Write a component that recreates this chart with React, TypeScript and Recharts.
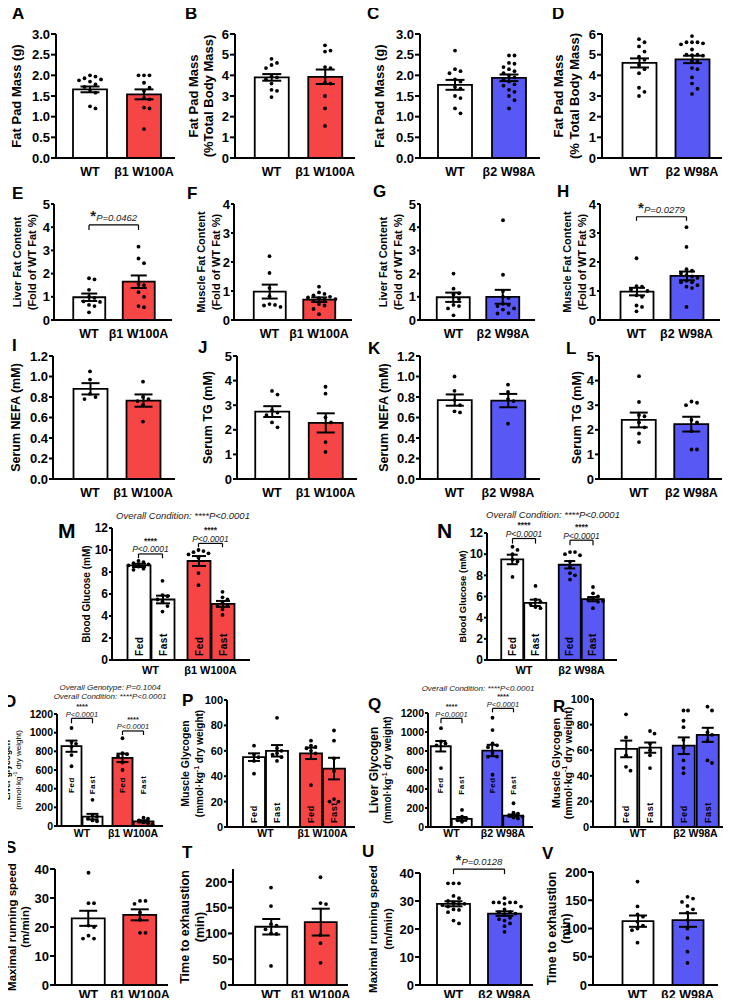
import React from "react";
import {
  ComposedChart,
  Bar,
  XAxis,
  YAxis,
  Scatter,
  ErrorBar,
  Cell,
  LabelList,
  ReferenceLine,
} from "recharts";

const FONT = '"Liberation Sans", Arial, Helvetica, sans-serif';
const RED = "#f54545";
const BLUE = "#5858f5";
const WHITE = "#ffffff";

const B1 = ["WT", "β1 W100A"];
const B2 = ["WT", "β2 W98A"];
const COND = ["Fed", "Fast"];

// tick values
const t3 = [0, 0.5, 1, 1.5, 2, 2.5, 3];
const t6 = [0, 1, 2, 3, 4, 5, 6];
const t5 = [0, 1, 2, 3, 4, 5];
const t4 = [0, 1, 2, 3, 4];
const t12s = [0, 0.2, 0.4, 0.6, 0.8, 1, 1.2];
const t12 = [0, 2, 4, 6, 8, 10, 12];
const t1200 = [0, 200, 400, 600, 800, 1000, 1200];
const t100 = [0, 20, 40, 60, 80, 100];
const t40 = [0, 10, 20, 30, 40];
const t200 = [0, 50, 100, 150, 200];

// A-D fat pad
const aMean = [1.66, 1.54];
const aSem = [0.07, 0.12];
const aWT = [2.0, 1.97, 1.93, 1.9, 1.88, 1.85, 1.78, 1.72, 1.62, 1.58, 1.25, 1.2];
const aMut = [2.0, 2.0, 2.0, 1.82, 1.7, 1.62, 1.45, 1.42, 1.22, 1.2, 0.7];
const bMean = [3.9, 3.93];
const bSem = [0.16, 0.35];
const bWT = [4.8, 4.6, 4.5, 4.35, 3.95, 3.9, 3.8, 3.6, 3.3, 3.25, 2.95];
const bMut = [5.45, 5.2, 5.15, 4.4, 4.35, 3.65, 3.6, 3.0, 2.4, 1.55];
const cMean = [1.77, 1.94];
const cSem = [0.12, 0.08];
const cWT = [2.6, 2.15, 2.1, 2.05, 1.9, 1.85, 1.72, 1.68, 1.5, 1.45, 1.2, 1.08];
const cMut = [2.48, 2.48, 2.3, 2.28, 2.2, 2.15, 2.1, 2.05, 2.0, 1.95, 1.9, 1.85, 1.78, 1.75, 1.65, 1.6, 1.5, 1.4, 1.2];
const dMean = [4.6, 4.77];
const dSem = [0.22, 0.18];
const dWT = [5.75, 5.6, 5.4, 5.15, 4.9, 4.75, 4.5, 4.3, 4.1, 3.4, 3.2, 3.0];
const dMut = [5.9, 5.6, 5.6, 5.6, 5.55, 5.5, 5.25, 5.0, 5.0, 4.98, 4.95, 4.7, 4.65, 4.35, 4.3, 3.9, 3.6, 3.35, 3.1];

// E-H fat content
const eMean = [0.98, 1.65];
const eSem = [0.16, 0.27];
const eWT = [1.8, 1.75, 1.3, 1.0, 0.95, 0.8, 0.78, 0.65, 0.6, 0.33];
const eMut = [3.16, 2.65, 2.45, 1.55, 1.5, 1.2, 1.0, 0.6, 0.55];
const fMean = [0.98, 0.7];
const fSem = [0.24, 0.08];
const fWT = [2.2, 1.62, 1.1, 0.82, 0.55, 0.52, 0.5, 0.45];
const fMut = [1.15, 0.95, 0.9, 0.85, 0.8, 0.78, 0.75, 0.72, 0.7, 0.65, 0.55, 0.5, 0.38, 0.2];
const gMean = [0.98, 1.0];
const gSem = [0.2, 0.3];
const gWT = [2.0, 1.35, 1.15, 1.1, 0.9, 0.65, 0.6, 0.5, 0.2];
const gMut = [4.3, 1.95, 1.25, 1.0, 0.95, 0.7, 0.65, 0.6, 0.5, 0.45, 0.3, 0.28];
const hMean = [0.98, 1.52];
const hSem = [0.13, 0.15];
const hWT = [2.13, 1.17, 1.15, 1.05, 1.0, 0.85, 0.8, 0.5, 0.45, 0.3];
const hMut = [3.2, 2.52, 1.75, 1.7, 1.6, 1.55, 1.5, 1.45, 1.35, 1.3, 1.3, 1.2, 1.15, 1.1, 0.45];

// I-L serum
const iMean = [0.88, 0.765];
const iSem = [0.055, 0.06];
const iWT = [1.05, 0.97, 0.83, 0.8, 0.78];
const iMut = [0.95, 0.8, 0.78, 0.76, 0.72, 0.56];
const jMean = [2.74, 2.28];
const jSem = [0.22, 0.39];
const jWT = [3.58, 3.43, 2.8, 2.7, 2.6, 2.3, 2.1];
const jMut = [3.75, 3.47, 2.5, 2.3, 1.5, 1.1];
const kMean = [0.77, 0.765];
const kSem = [0.055, 0.065];
const kWT = [1.0, 0.86, 0.77, 0.72, 0.66, 0.65];
const kMut = [0.92, 0.85, 0.78, 0.76, 0.54];
const lMean = [2.4, 2.23];
const lSem = [0.3, 0.3];
const lWT = [4.18, 3.13, 2.6, 2.55, 2.3, 2.1, 1.85, 1.5];
const lMut = [3.15, 3.1, 3.0, 2.4, 2.3, 1.95, 1.2, 1.2];

// M-N blood glucose (fed / fast)
const mFed = [8.6, 9.0];
const mFast = [5.5, 5.1];
const mFedSem = [0.15, 0.45];
const mFastSem = [0.35, 0.27];
const mWtFed = [9.0, 8.9, 8.8, 8.7, 8.6, 8.5, 8.3, 8.2];
const mWtFast = [7.2, 5.9, 5.8, 5.5, 5.3, 4.9, 4.4];
const mMutFed = [10.0, 9.9, 9.8, 9.7, 9.6, 9.3, 7.9, 6.8];
const mMutFast = [6.2, 5.7, 5.5, 5.2, 5.0, 4.9, 4.6, 4.1];
const nFed = [9.5, 9.0];
const nFast = [5.4, 5.75];
const nFedSem = [0.45, 0.35];
const nFastSem = [0.3, 0.2];
const nWtFed = [10.7, 10.4, 10.0, 9.5, 9.3, 7.85];
const nWtFast = [7.0, 5.7, 5.5, 5.3, 5.0, 4.9];
const nMutFed = [10.2, 10.2, 10.0, 9.9, 9.3, 8.8, 8.2, 8.0, 7.6];
const nMutFast = [6.9, 6.3, 6.0, 5.8, 5.7, 5.6, 5.5, 4.9];

// O-R glycogen
const oFed = [855, 730];
const oFast = [100, 50];
const oFedSem = [60, 45];
const oFastSem = [30, 12];
const oWtFed = [1050, 900, 880, 850, 760, 640];
const oWtFast = [280, 120, 100, 80, 60, 50];
const oMutFed = [940, 780, 770, 750, 680, 600];
const oMutFast = [90, 80, 60, 40, 30, 20];
const pFed = [55, 58];
const pFast = [60, 46];
const pFedSem = [3, 4.5];
const pFastSem = [4.5, 8.5];
const pWtFed = [64, 57, 55, 52, 42];
const pWtFast = [86, 62, 60, 58, 57, 55, 52];
const pMutFed = [68, 64, 63, 62, 60, 58, 33];
const pMutFast = [76, 68, 54, 44, 22, 20, 20];
const qFed = [850, 805];
const qFast = [85, 120];
const qFedSem = [55, 60];
const qFastSem = [20, 12];
const qWtFed = [1040, 900, 880, 860, 620];
const qWtFast = [180, 110, 90, 70, 55];
const qMutFed = [1150, 1020, 880, 860, 840, 780, 740, 740, 550];
const qMutFast = [250, 150, 140, 120, 110, 100, 90];
const rFed = [61, 63.5];
const rFast = [62, 72];
const rFedSem = [6.5, 6.5];
const rFastSem = [4, 5.5];
const rWtFed = [88, 70, 56, 47, 44];
const rWtFast = [75, 73, 65, 60, 56, 46];
const rMutFed = [91, 91, 83, 78, 68, 62, 52, 46, 42];
const rMutFast = [94, 91, 74, 72, 67, 52, 50];

// S-V exercise
const sMean = [23, 24.2];
const sSem = [2.6, 1.9];
const sWT = [38.7, 28.2, 28.2, 20.5, 20, 17, 16, 16];
const sMut = [29, 29, 28, 25, 22.5, 18, 18];
const tMean = [113, 122];
const tSem = [15, 26];
const tWT = [189, 153, 118, 115, 108, 100, 99, 37];
const tMut = [209, 159, 157, 97, 81, 43];
const uMean = [29, 25.5];
const uSem = [0.9, 0.8];
const uWT = [36.3, 36.3, 36.3, 31.8, 31, 30, 29.5, 29, 29, 28.5, 28, 27, 26.8, 26, 23, 22];
const uMut = [31, 29.5, 29.5, 29.5, 29.5, 29, 28, 27, 26, 26, 25.5, 25, 24, 23.5, 23, 22, 21, 19];
const vMean = [113, 115];
const vSem = [10, 12];
const vWT = [183, 139, 125, 121, 112, 105, 100, 97, 75];
const vMut = [156, 153, 147, 140, 134, 128, 115, 100, 83, 59, 39];

type Br = { g0: number; s0: number; g1: number; s1: number; y: number; y2: number; p: string; quad?: boolean };
type YL = [string, number, number, boolean];
type Cfg = {
  letter: string; lx: number; ly: number; ls?: number;
  ax: number; c1: number; c2: number; end: number; top: number; bot: number;
  barW: number; gap?: number; cap: number;
  max: number; ticks: number[]; dec: number; tf: number; xf: number; xo: number; ts: number;
  cats: string[]; colors: string[];
  means: number[][]; sems: number[][]; pts: number[][][];
  yl: YL[]; br?: Br[]; condAt?: number | null; condF?: number; bf?: number; dg?: number;
};

const R1 = { top: 34, bot: 158, tf: 13, xf: 12.5, xo: 9.5, ts: 5, barW: 34, cap: 9.5 };
const R2 = { top: 204, bot: 320, tf: 13, xf: 12.5, xo: 9.5, ts: 3, cap: 8 };
const R3 = { top: 356, bot: 479, tf: 13, xf: 12.5, xo: 9.5, ts: 4, barW: 34, cap: 9 };
const R6 = { bot: 985, tf: 13, xf: 12.5, xo: 5, ts: 5, cap: 9 };

const PANELS: Cfg[] = [
  { ...R1, letter: "A", lx: 12, ly: 19, ax: 56, c1: 90, c2: 144, end: 175, max: 3, ticks: t3, dec: 1, cats: B1, colors: [WHITE, RED], means: [aMean], sems: [aSem], pts: [[aWT, aMut]], yl: [["Fat Pad Mass (g)", -40, 13, true]] },
  { ...R1, letter: "B", lx: 185, ly: 19, ax: 235, c1: 271.5, c2: 325, end: 355, max: 6, ticks: t6, dec: 0, cats: B1, colors: [WHITE, RED], means: [bMean], sems: [bSem], pts: [[bWT, bMut]], yl: [["Fat Pad Mass", -42, 13, true], ["(%Total Body Mass)", -27, 13, true]] },
  { ...R1, letter: "C", lx: 367, ly: 19, ax: 420, c1: 455, c2: 509, end: 540, max: 3, ticks: t3, dec: 1, cats: B2, colors: [WHITE, BLUE], means: [cMean], sems: [cSem], pts: [[cWT, cMut]], yl: [["Fat Pad Mass (g)", -41, 13, true]] },
  { ...R1, letter: "D", lx: 552, ly: 19, ax: 602, c1: 639, c2: 692, end: 722, max: 6, ticks: t6, dec: 0, cats: B2, colors: [WHITE, BLUE], means: [dMean], sems: [dSem], pts: [[dWT, dMut]], yl: [["Fat Pad Mass", -44, 13, true], ["(% Total Body Mass)", -28, 13, true]] },

  { ...R2, letter: "E", lx: 12, ly: 199, ax: 54, c1: 89, c2: 138.5, end: 172, barW: 32, max: 5, ticks: t5, dec: 0, cats: B1, colors: [WHITE, RED], means: [eMean], sems: [eSem], pts: [[eWT, eMut]], yl: [["Liver Fat Content", -37, 11, true], ["(Fold of WT Fat %)", -22, 11, true]], br: [{ g0: 0, s0: 0, g1: 1, s1: 0, y: 4.1, y2: 3.88, p: "P=0.0462" }], bf: 9.5 },
  { ...R2, letter: "F", lx: 187, ly: 199, ax: 234, c1: 269.5, c2: 319, end: 352, barW: 32, max: 4, ticks: t4, dec: 0, cats: B1, colors: [WHITE, RED], means: [fMean], sems: [fSem], pts: [[fWT, fMut]], yl: [["Muscle Fat Content", -33, 11, true], ["(Fold of WT Fat %)", -18, 11, true]] },
  { ...R2, letter: "G", lx: 373, ly: 197, ax: 420, c1: 453.5, c2: 503, end: 535, barW: 33, max: 5, ticks: t5, dec: 0, cats: B2, colors: [WHITE, BLUE], means: [gMean], sems: [gSem], pts: [[gWT, gMut]], yl: [["Liver Fat Content", -37, 11, true], ["(Fold of WT Fat %)", -22, 11, true]] },
  { ...R2, letter: "H", lx: 557, ly: 197, ax: 600, c1: 636.5, c2: 686.5, end: 720, barW: 33, max: 4, ticks: t4, dec: 0, cats: B2, colors: [WHITE, BLUE], means: [hMean], sems: [hSem], pts: [[hWT, hMut]], yl: [["Muscle Fat Content", -33, 11, true], ["(Fold of WT Fat %)", -18, 11, true]], br: [{ g0: 0, s0: 0, g1: 1, s1: 0, y: 3.56, y2: 3.42, p: "P=0.0279" }], bf: 9.5 },

  { ...R3, letter: "I", lx: 12, ly: 351, ax: 53, c1: 90, c2: 143, end: 175, max: 1.2, ticks: t12s, dec: 1, cats: B1, colors: [WHITE, RED], means: [iMean], sems: [iSem], pts: [[iWT, iMut]], yl: [["Serum NEFA (mM)", -37, 12.5, true]] },
  { ...R3, letter: "J", lx: 198, ly: 353, ax: 237, c1: 272, c2: 325.5, end: 357, max: 5, ticks: t5, dec: 0, cats: B1, colors: [WHITE, RED], means: [jMean], sems: [jSem], pts: [[jWT, jMut]], yl: [["Serum TG (mM)", -29, 12.5, true]] },
  { ...R3, letter: "K", lx: 368, ly: 354, ax: 420, c1: 454.5, c2: 508, end: 540, max: 1.2, ticks: t12s, dec: 1, cats: B2, colors: [WHITE, BLUE], means: [kMean], sems: [kSem], pts: [[kWT, kMut]], yl: [["Serum NEFA (mM)", -36, 12.5, true]] },
  { ...R3, letter: "L", lx: 566, ly: 354, ax: 599, c1: 639, c2: 691.5, end: 722, max: 5, ticks: t5, dec: 0, cats: B2, colors: [WHITE, BLUE], means: [lMean], sems: [lSem], pts: [[lWT, lMut]], yl: [["Serum TG (mM)", -22, 12.5, true]] },

  { letter: "M", lx: 58, ly: 538, ls: 21, ax: 112, c1: 150.5, c2: 210.5, end: 250, top: 528, bot: 660, barW: 23, gap: 1, cap: 7, max: 12, ticks: t12, dec: 0, tf: 12, xf: 11, xo: 5.8, ts: 3, cats: B1, colors: [WHITE, RED], means: [mFed, mFast], sems: [mFedSem, mFastSem], pts: [[mWtFed, mMutFed], [mWtFast, mMutFast]], yl: [["Blood Glucose (mM)", -26, 10, true]], condAt: null, condF: 10, bf: 8.5, dg: 5,
    br: [{ g0: 0, s0: 0, g1: 0, s1: 1, y: 9.64, y2: 9.25, p: "P<0.0001", quad: true }, { g0: 1, s0: 0, g1: 1, s1: 1, y: 10.6, y2: 10.25, p: "P<0.0001", quad: true }] },
  { letter: "N", lx: 437, ly: 538, ls: 21, ax: 487, c1: 524, c2: 581.5, end: 617, top: 533, bot: 660, barW: 22, gap: 1, cap: 5.5, max: 12, ticks: t12, dec: 0, tf: 12, xf: 11, xo: 5.8, ts: 3, cats: B2, colors: [WHITE, BLUE], means: [nFed, nFast], sems: [nFedSem, nFastSem], pts: [[nWtFed, nMutFed], [nWtFast, nMutFast]], yl: [["Blood Glucose (mM)", -25, 9.5, true]], condAt: null, condF: 10, bf: 8.5, dg: 5,
    br: [{ g0: 0, s0: 0, g1: 0, s1: 1, y: 11.48, y2: 11.0, p: "P<0.0001", quad: true }, { g0: 1, s0: 0, g1: 1, s1: 1, y: 11.32, y2: 10.85, p: "P<0.0001", quad: true }] },

  { letter: "O", lx: 3, ly: 707, ax: 57, c1: 82, c2: 133, end: 163, top: 714, bot: 826, barW: 20, gap: 1, cap: 6, max: 1200, ticks: t1200, dec: 0, tf: 10.5, xf: 10.5, xo: 3.5, ts: 3, cats: B1, colors: [WHITE, RED], means: [oFed, oFast], sems: [oFedSem, oFastSem], pts: [[oWtFed, oMutFed], [oWtFast, oMutFast]], yl: [["Liver glycogen", -50, 8.5, true], ["(mmol·kg^-1^ dry weight)", -39, 8, false]], condAt: 440, condF: 8, bf: 7.5, dg: 4.5,
    br: [{ g0: 0, s0: 0, g1: 0, s1: 1, y: 1154, y2: 1100, p: "P<0.0001", quad: true }, { g0: 1, s0: 0, g1: 1, s1: 1, y: 1018, y2: 975, p: "P<0.0001", quad: true }] },
  { letter: "P", lx: 182, ly: 706, ax: 227, c1: 265.5, c2: 322.5, end: 355, top: 700, bot: 827, barW: 22, gap: 1, cap: 6, max: 100, ticks: t100, dec: 0, tf: 11, xf: 10.5, xo: 3, ts: 3, cats: B1, colors: [WHITE, RED], means: [pFed, pFast], sems: [pFedSem, pFastSem], pts: [[pWtFed, pMutFed], [pWtFast, pMutFast]], yl: [["Muscle Glycogen", -42, 10.5, true], ["(mmol·kg^-1^ dry weight)", -28, 10, true]], condAt: null, condF: 9, dg: 4.5 },
  { letter: "Q", lx: 368, ly: 710, ax: 428, c1: 451.5, c2: 503, end: 533, top: 713, bot: 827, barW: 20, gap: 1, cap: 5.5, max: 1200, ticks: t1200, dec: 0, tf: 10.5, xf: 10.5, xo: 2.5, ts: 3, cats: B2, colors: [WHITE, BLUE], means: [qFed, qFast], sems: [qFedSem, qFastSem], pts: [[qWtFed, qMutFed], [qWtFast, qMutFast]], yl: [["Liver Glycogen", -54, 12, true], ["(mmol·kg^-1^ dry weight)", -41, 10, true]], condAt: 440, condF: 8, bf: 7.5, dg: 4.5,
    br: [{ g0: 0, s0: 0, g1: 0, s1: 1, y: 1144, y2: 1091, p: "P<0.0001", quad: true }, { g0: 1, s0: 0, g1: 1, s1: 1, y: 1249, y2: 1207, p: "P<0.0001", quad: true }] },
  { letter: "R", lx: 553, ly: 712, ax: 593, c1: 638, c2: 695.5, end: 727, top: 699, bot: 827, barW: 22, gap: 2, cap: 6, max: 100, ticks: t100, dec: 0, tf: 11, xf: 10.5, xo: 3, ts: 3, cats: B2, colors: [WHITE, BLUE], means: [rFed, rFast], sems: [rFedSem, rFastSem], pts: [[rWtFed, rMutFed], [rWtFast, rMutFast]], yl: [["Muscle Glycogen", -37, 11, true], ["(mmol·kg^-1^ dry weight)", -25, 10.5, true]], condAt: null, condF: 9, dg: 4.5 },

  { ...R6, letter: "S", lx: 5, ly: 853, ax: 55, c1: 88.5, c2: 140, end: 168, top: 869, barW: 33, max: 40, ticks: t40, dec: 0, cats: B1, colors: [WHITE, RED], means: [sMean], sems: [sSem], pts: [[sWT, sMut]], yl: [["Maximal running speed", -43, 11.5, true], ["(m/min)", -30, 11.5, true]] },
  { ...R6, letter: "T", lx: 182, ly: 858, ax: 233, c1: 271, c2: 320.5, end: 348, top: 869, barW: 32, max: 225, ticks: t200, dec: 0, cats: B1, colors: [WHITE, RED], means: [tMean], sems: [tSem], pts: [[tWT, tMut]], yl: [["Time to exhaustion", -48, 12.5, true], ["(min)", -33, 12.5, true]] },
  { ...R6, letter: "U", lx: 362, ly: 857, ax: 420, c1: 453.5, c2: 504.5, end: 533, top: 873, barW: 33, max: 40, ticks: t40, dec: 0, cats: B2, colors: [WHITE, BLUE], means: [uMean], sems: [uSem], pts: [[uWT, uMut]], yl: [["Maximal running speed", -47, 11.5, true], ["(m/min)", -32, 11.5, true]], br: [{ g0: 0, s0: 0, g1: 1, s1: 0, y: 41.4, y2: 39.6, p: "P=0.0128" }], bf: 9.5 },
  { ...R6, letter: "V", lx: 542, ly: 859, ax: 593, c1: 637.5, c2: 687.5, end: 718, top: 872, barW: 31, max: 200, ticks: t200, dec: 0, cats: B2, colors: [WHITE, BLUE], means: [vMean], sems: [vSem], pts: [[vWT, vMut]], yl: [["Time to exhaustion", -41, 12.5, true], ["(min)", -27, 12.5, true]] },
] as Cfg[];

// simple beeswarm: pixel x offsets so dots don't overlap
function swarm(vals: number[], pxPerUnit: number, gap: number): number[] {
  const order = vals.map((_, i) => i).sort((a, b) => vals[b] - vals[a]);
  const placed: { x: number; y: number }[] = [];
  const out: number[] = new Array(vals.length).fill(0);
  for (const i of order) {
    const y = vals[i] * pxPerUnit;
    for (let k = 0; k < 60; k++) {
      const dx = k === 0 ? 0 : Math.ceil(k / 2) * gap * (k % 2 ? 1 : -1);
      let ok = true;
      for (const p of placed) {
        if ((p.x - dx) ** 2 + (p.y - y) ** 2 < gap * gap) { ok = false; break; }
      }
      if (ok) { placed.push({ x: dx, y }); out[i] = dx; break; }
    }
  }
  return out;
}

function BrText(props: any) {
  const { viewBox, b, fs } = props;
  if (!viewBox) return null;
  const cx = viewBox.x + viewBox.width / 2;
  const y = viewBox.y;
  if (b.quad) {
    return (
      <g fontFamily={FONT} fill="#222">
        <text x={cx} y={y - fs * 1.2} textAnchor="middle" fontSize={fs} fontWeight={700}>****</text>
        <text x={cx} y={y - 1.5} textAnchor="middle" fontSize={fs} fontStyle="italic">{b.p}</text>
      </g>
    );
  }
  return (
    <text x={cx} y={y - 4} textAnchor="middle" fontFamily={FONT} fill="#222">
      <tspan fontSize={15} fontWeight={700}>*</tspan>
      <tspan fontSize={fs} fontStyle="italic">{b.p}</tspan>
    </text>
  );
}

function Panel({ c }: { c: Cfg }) {
  const LW = 60, MT = 45, MB = 24, MR = 6;
  const plotW = c.end - c.ax, plotH = c.bot - c.top;
  const band = c.c2 - c.c1;
  const nG = c.cats.length, nS = c.means.length;
  const pl = c.c1 - band / 2 - c.ax;
  const pr = c.end - (c.c2 + band / 2);
  const gap = c.gap ?? 0;
  const pxY = plotH / c.max;
  const sOff = (s: number) => (nS === 1 ? 0 : ((s - (nS - 1) / 2) * (c.barW + gap)) / band);
  const xp = (g: number, s: number) => g + 0.5 + sOff(s);
  const rows = c.cats.map((name, g) => {
    const r: Record<string, any> = { name };
    c.means.forEach((m, s) => { r["v" + s] = m[g]; r["e" + s] = c.sems[s][g]; });
    return r;
  });
  const dots: { x: number; y: number }[] = [];
  c.pts.forEach((ser, s) =>
    ser.forEach((vals, g) => {
      const off = swarm(vals, pxY, c.dg ?? 5.5);
      vals.forEach((v, i) => dots.push({ x: xp(g, s) + off[i] / band, y: v }));
    })
  );
  const W = LW + plotW + MR, H = MT + plotH + MB;
  const axisStyle = { stroke: "#000", strokeWidth: 2 };
  return (
    <div style={{ position: "absolute", left: c.ax - LW, top: c.top - MT }}>
      <ComposedChart width={W} height={H} data={rows} margin={{ top: MT, right: MR, bottom: 0, left: 0 }} barGap={gap}>
        <XAxis dataKey="name" padding={{ left: pl, right: pr }} height={MB} tickLine={false} axisLine={axisStyle}
          tick={{ fill: "#000", fontSize: c.xf, fontWeight: 700, fontFamily: FONT }} tickSize={c.xo} tickMargin={0} interval={0} />
        <XAxis xAxisId="s" type="number" dataKey="x" domain={[0, nG]} padding={{ left: pl, right: pr }} hide allowDataOverflow />
        <YAxis width={LW} domain={[0, c.max]} ticks={c.ticks} interval={0} allowDataOverflow
          tickFormatter={(v: number) => v.toFixed(c.dec)}
          tick={{ fill: "#000", fontSize: c.tf, fontWeight: 700, fontFamily: FONT }}
          tickSize={c.ts} tickMargin={1} tickLine={axisStyle} axisLine={axisStyle} />
        {c.means.map((_, s) => (
          <Bar key={s} dataKey={"v" + s} barSize={c.barW} stroke="#000" strokeWidth={1.8} isAnimationActive={false}>
            {c.cats.map((_, g) => <Cell key={g} fill={c.colors[g]} />)}
            <ErrorBar dataKey={"e" + s} width={c.cap} stroke="#000" strokeWidth={2} />
            {nS > 1 && (
              <LabelList dataKey={"v" + s} content={(p: any) => {
                const cx = p.x + p.width / 2;
                const base = p.y + p.height;
                const y = c.condAt == null ? base - 4 : base - c.condAt * pxY;
                return (
                  <text x={cx} y={y} transform={`rotate(-90 ${cx} ${y})`} textAnchor={c.condAt == null ? "start" : "middle"}
                    dominantBaseline="central" fontSize={c.condF} fontWeight={700} fontFamily={FONT} letterSpacing={0.6} fill="#000">
                    {COND[s]}
                  </text>
                );
              }} />
            )}
          </Bar>
        ))}
        <Scatter xAxisId="s" data={dots} dataKey="y" isAnimationActive={false}
          shape={(p: any) => <circle cx={p.cx} cy={p.cy} r={1.9} fill="#000" />} />
        {(c.br || []).map((b, i) => {
          const x0 = xp(b.g0, b.s0), x1 = xp(b.g1, b.s1);
          return [
            <ReferenceLine key={"h" + i} xAxisId="s" ifOverflow="visible" segment={[{ x: x0, y: b.y }, { x: x1, y: b.y }]}
              stroke="#000" strokeWidth={1.2} label={<BrText b={b} fs={c.bf ?? 9} />} />,
            <ReferenceLine key={"l" + i} xAxisId="s" ifOverflow="visible" segment={[{ x: x0, y: b.y }, { x: x0, y: b.y2 }]} stroke="#000" strokeWidth={1.2} />,
            <ReferenceLine key={"r" + i} xAxisId="s" ifOverflow="visible" segment={[{ x: x1, y: b.y }, { x: x1, y: b.y2 }]} stroke="#000" strokeWidth={1.2} />,
          ];
        })}
      </ComposedChart>
    </div>
  );
}

function YLabel({ c }: { c: Cfg }) {
  const cy = (c.top + c.bot) / 2;
  return (
    <g>
      {c.yl.map(([t, dx, size, bold], i) => {
        const x = c.ax + dx;
        const parts = t.split("^");
        return (
          <text key={i} x={x} y={cy} transform={`rotate(-90 ${x} ${cy})`} textAnchor="middle" dominantBaseline="central"
            fontSize={size} fontWeight={bold ? 700 : 400} fontFamily={FONT} fill="#000">
            {parts.length === 3 ? (
              <>
                {parts[0]}
                <tspan dy={-size * 0.35} fontSize={size * 0.7}>{parts[1]}</tspan>
                <tspan dy={size * 0.35}>{parts[2]}</tspan>
              </>
            ) : t}
          </text>
        );
      })}
    </g>
  );
}

export default function App() {
  const note = { fontFamily: FONT, fontStyle: "italic" as const, fill: "#222" };
  return (
    <div style={{ position: "relative", width: 731, height: 1006, margin: -8, background: "#fff", overflow: "hidden" }}>
      {PANELS.map((c) => <Panel key={c.letter} c={c} />)}
      <svg width={731} height={1006} style={{ position: "absolute", left: 0, top: 0, pointerEvents: "none" }}>
        {PANELS.map((c) => (
          <g key={c.letter}>
            <text x={c.lx} y={c.ly} fontSize={c.ls ?? 17} fontWeight={700} fontFamily={FONT} fill="#000">{c.letter}</text>
            <YLabel c={c} />
          </g>
        ))}
        <text x={183} y={519} textAnchor="middle" fontSize={9.5} {...note}>Overall Condition: ****P&lt;0.0001</text>
        <text x={553} y={518} textAnchor="middle" fontSize={9.5} {...note}>Overall Condition: ****P&lt;0.0001</text>
        <text x={110} y={690} textAnchor="middle" fontSize={8} {...note}>Overall Genotype: P=0.1004</text>
        <text x={110} y={699} textAnchor="middle" fontSize={8} {...note}>Overall Condition: ****P&lt;0.0001</text>
        <text x={478} y={691} textAnchor="middle" fontSize={8} {...note}>Overall Condition: ****P&lt;0.0001</text>
      </svg>
    </div>
  );
}
